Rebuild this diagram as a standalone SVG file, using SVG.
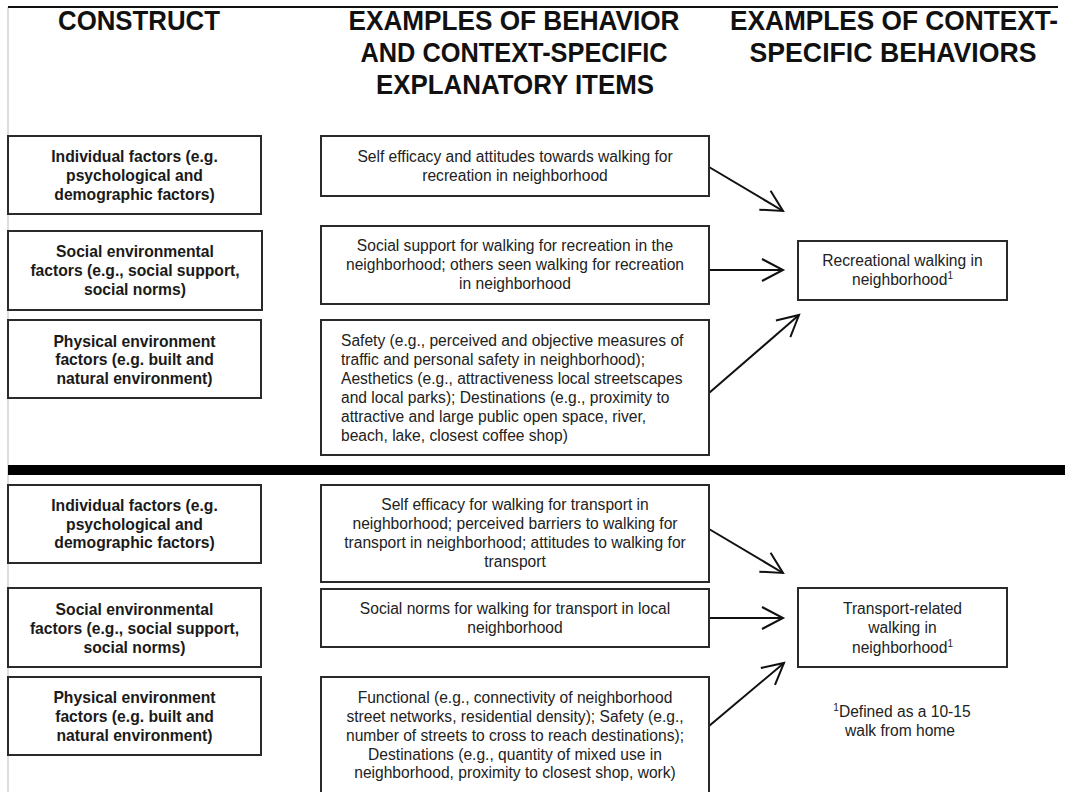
<svg xmlns="http://www.w3.org/2000/svg" width="1065" height="792" viewBox="0 0 1065 792">
<style>
.box{fill:#fff;stroke:#2a2a2a;stroke-width:2}
.hd{font-family:"Liberation Sans",Arial,sans-serif;font-weight:bold;font-size:28px;fill:#111;text-anchor:middle}
.lt{font-family:"Liberation Sans",Arial,sans-serif;font-weight:bold;font-size:15.7px;fill:#1a1a1a;text-anchor:middle}
.mt{font-family:"Liberation Sans",Arial,sans-serif;font-size:15.6px;fill:#222;text-anchor:middle}
.ml{font-family:"Liberation Sans",Arial,sans-serif;font-size:15.6px;fill:#222}
.sup{font-size:10px}
.conn{stroke:#111;stroke-width:2;fill:none;marker-end:url(#arr)}
</style>
<defs>
<marker id="arr" markerUnits="userSpaceOnUse" markerWidth="26" markerHeight="26" viewBox="0 0 26 26" refX="23" refY="13" orient="auto" overflow="visible">
<path d="M2,2 L23,13 L2,24" fill="none" stroke="#111" stroke-width="2"/>
</marker>
</defs>
<rect x="0" y="0" width="1065" height="792" fill="#fff"/>
<line x1="8" y1="7" x2="8" y2="792" stroke="#bbb" stroke-width="1"/>
<line x1="8" y1="7" x2="1058" y2="7" stroke="#111" stroke-width="2"/>
<rect x="8" y="465" width="1057" height="10" fill="#000"/>

<g id="headers">
<text class="hd" x="139" y="30" textLength="162" lengthAdjust="spacingAndGlyphs">CONSTRUCT</text>
<text class="hd" x="514" y="30" textLength="331" lengthAdjust="spacingAndGlyphs">EXAMPLES OF BEHAVIOR</text>
<text class="hd" x="514" y="62" textLength="307" lengthAdjust="spacingAndGlyphs">AND CONTEXT-SPECIFIC</text>
<text class="hd" x="515" y="94" textLength="278" lengthAdjust="spacingAndGlyphs">EXPLANATORY ITEMS</text>
<text class="hd" x="894" y="30" textLength="328" lengthAdjust="spacingAndGlyphs">EXAMPLES OF CONTEXT-</text>
<text class="hd" x="893" y="62" textLength="287" lengthAdjust="spacingAndGlyphs">SPECIFIC BEHAVIORS</text>
</g>

<g id="connectors">
<line class="conn" x1="709" y1="167" x2="783" y2="211"/>
<line class="conn" x1="709" y1="270" x2="783" y2="270"/>
<line class="conn" x1="709" y1="393" x2="799" y2="315"/>
<line class="conn" x1="709" y1="529" x2="783" y2="573"/>
<line class="conn" x1="709" y1="618" x2="783" y2="618"/>
<line class="conn" x1="709" y1="726" x2="784" y2="663"/>
</g>

<g id="rec-individual">
<rect class="box" x="8" y="136" width="253" height="78"/>
<text class="lt" x="134.5" y="162">Individual factors (e.g.</text>
<text class="lt" x="134.5" y="181">psychological and</text>
<text class="lt" x="134.5" y="200">demographic factors)</text>
</g>
<g id="rec-social">
<rect class="box" x="8" y="231" width="254" height="79"/>
<text class="lt" x="135" y="257">Social environmental</text>
<text class="lt" x="135" y="276">factors (e.g., social support,</text>
<text class="lt" x="135" y="295">social norms)</text>
</g>
<g id="rec-physical">
<rect class="box" x="8" y="320" width="253" height="78"/>
<text class="lt" x="134.5" y="347">Physical environment</text>
<text class="lt" x="134.5" y="365">factors (e.g. built and</text>
<text class="lt" x="134.5" y="384">natural environment)</text>
</g>

<g id="rec-item-individual">
<rect class="box" x="321" y="136" width="388" height="60"/>
<text class="mt" x="515" y="162">Self efficacy and attitudes towards walking for</text>
<text class="mt" x="515" y="181">recreation in neighborhood</text>
</g>
<g id="rec-item-social">
<rect class="box" x="321" y="226" width="388" height="78"/>
<text class="mt" x="515" y="251">Social support for walking for recreation in the</text>
<text class="mt" x="515" y="270">neighborhood; others seen walking for recreation</text>
<text class="mt" x="515" y="289">in neighborhood</text>
</g>
<g id="rec-item-physical">
<rect class="box" x="321" y="320" width="388" height="135"/>
<text class="ml" x="341" y="346">Safety (e.g., perceived and objective measures of</text>
<text class="ml" x="341" y="365">traffic and personal safety in neighborhood);</text>
<text class="ml" x="341" y="384">Aesthetics (e.g., attractiveness local streetscapes</text>
<text class="ml" x="341" y="403">and local parks); Destinations (e.g.,  proximity to</text>
<text class="ml" x="341" y="422">attractive and large public open space, river,</text>
<text class="ml" x="341" y="441">beach, lake, closest coffee shop)</text>
</g>

<g id="rec-outcome">
<rect class="box" x="798" y="241" width="209" height="59"/>
<text class="mt" x="902.5" y="266">Recreational walking in</text>
<text class="mt" x="902.5" y="285">neighborhood<tspan class="sup" dy="-6">1</tspan></text>
</g>

<g id="tr-individual">
<rect class="box" x="8" y="485" width="253" height="78"/>
<text class="lt" x="134.5" y="511">Individual factors (e.g.</text>
<text class="lt" x="134.5" y="529.5">psychological and</text>
<text class="lt" x="134.5" y="548">demographic factors)</text>
</g>
<g id="tr-social">
<rect class="box" x="8" y="588" width="253" height="79"/>
<text class="lt" x="134.5" y="615">Social environmental</text>
<text class="lt" x="134.5" y="634">factors (e.g., social support,</text>
<text class="lt" x="134.5" y="653">social norms)</text>
</g>
<g id="tr-physical">
<rect class="box" x="8" y="677" width="253" height="78"/>
<text class="lt" x="134.5" y="703">Physical environment</text>
<text class="lt" x="134.5" y="722">factors (e.g. built and</text>
<text class="lt" x="134.5" y="741">natural environment)</text>
</g>

<g id="tr-item-individual">
<rect class="box" x="321" y="485" width="388" height="97"/>
<text class="mt" x="515" y="510">Self efficacy for walking for transport in</text>
<text class="mt" x="515" y="529">neighborhood; perceived barriers to walking for</text>
<text class="mt" x="515" y="548">transport in neighborhood; attitudes to walking for</text>
<text class="mt" x="515" y="567">transport</text>
</g>
<g id="tr-item-social">
<rect class="box" x="321" y="589" width="388" height="58"/>
<text class="mt" x="515" y="614">Social norms for walking for transport in local</text>
<text class="mt" x="515" y="633">neighborhood</text>
</g>
<g id="tr-item-physical">
<rect class="box" x="321" y="677" width="388" height="130"/>
<text class="mt" x="515" y="703">Functional (e.g., connectivity of neighborhood</text>
<text class="mt" x="515" y="722">street networks, residential density); Safety (e.g.,</text>
<text class="mt" x="515" y="741">number of streets to cross to reach destinations);</text>
<text class="mt" x="515" y="760">Destinations (e.g., quantity of mixed use in</text>
<text class="mt" x="515" y="778">neighborhood, proximity to closest shop, work)</text>
</g>

<g id="tr-outcome">
<rect class="box" x="798" y="588" width="209" height="79"/>
<text class="mt" x="902.5" y="614">Transport-related</text>
<text class="mt" x="902.5" y="633">walking in</text>
<text class="mt" x="902.5" y="653">neighborhood<tspan class="sup" dy="-6">1</tspan></text>
</g>

<g id="footnote">
<text class="mt" x="902" y="717"><tspan class="sup" dy="-6">1</tspan><tspan dy="6">Defined as a 10-15</tspan></text>
<text class="mt" x="900" y="736">walk from home</text>
</g>
</svg>
